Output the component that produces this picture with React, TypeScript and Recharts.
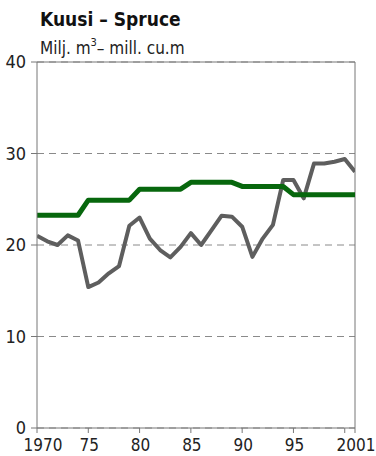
import React from "react";
import { LineChart, Line, XAxis, YAxis, CartesianGrid, ReferenceLine } from "recharts";

const years = [1970, 1971, 1972, 1973, 1974, 1975, 1976, 1977, 1978, 1979, 1980, 1981, 1982, 1983, 1984, 1985, 1986, 1987, 1988, 1989, 1990, 1991, 1992, 1993, 1994, 1995, 1996, 1997, 1998, 1999, 2000, 2001];
const fellings = [21.0, 20.4, 20.0, 21.05, 20.5, 15.4, 15.9, 16.9, 17.7, 22.1, 23.0, 20.7, 19.45, 18.65, 19.8, 21.3, 20.0, 21.6, 23.2, 23.1, 22.0, 18.7, 20.7, 22.2, 27.1, 27.1, 25.1, 28.9, 28.9, 29.1, 29.4, 28.0];
const allowable = [23.25, 23.25, 23.25, 23.25, 23.25, 24.9, 24.9, 24.9, 24.9, 24.9, 26.1, 26.1, 26.1, 26.1, 26.1, 26.85, 26.85, 26.85, 26.85, 26.85, 26.4, 26.4, 26.4, 26.4, 26.4, 25.5, 25.5, 25.5, 25.5, 25.5, 25.5, 25.5];
const xTicks = [1970, 1975, 1980, 1985, 1990, 1995, 2000, 2001];
const yTicks = [0, 10, 20, 30, 40];
const title = "Kuusi – Spruce";
const unitA = "Milj. m";
const unitSup = "3";
const unitB = "– mill. cu.m";

const data = years.map((y, i) => ({ year: y, fellings: fellings[i], allowable: allowable[i] }));

const FONT = "'Liberation Sans Narrow', 'DejaVu Sans Condensed', 'Roboto Condensed', Arial, sans-serif";

const fmtX = (v: number) => {
  if (v === 1970 || v === 2001) return String(v);
  if (v === 2000) return "";
  return String(v).slice(2);
};

const XTick = (props: any) => {
  const { x, y, payload } = props;
  const v = payload.value as number;
  const label = fmtX(v);
  if (!label) return <g />;
  const shift = v === 1970 ? 6 : v === 2001 ? 1 : 1;
  return (
    <text x={x + shift} y={y} dy="0.71em" textAnchor="middle" fill="#222" fontSize={17} fontFamily={FONT}>
      {label}
    </text>
  );
};

export default function App() {
  return (
    <div style={{ position: "absolute", left: 0, top: 0, width: 376, height: 456, background: "#fff", fontFamily: FONT }}>
      <div style={{ position: "absolute", left: 40, top: 10, fontSize: 19, lineHeight: "19px", fontWeight: 700, color: "#111", whiteSpace: "nowrap" }}>
        {title}
      </div>
      <div style={{ position: "absolute", left: 40, top: 40, fontSize: 17, lineHeight: "17px", color: "#222", whiteSpace: "nowrap" }}>
        {unitA}
        <sup style={{ fontSize: 11, verticalAlign: "top", lineHeight: "11px", position: "relative", top: -3 }}>{unitSup}</sup>
        {unitB}
      </div>
      <div style={{ position: "absolute", left: 0, top: 0 }}>
        <LineChart width={376} height={456} data={data} margin={{ top: 62, right: 21, bottom: 0, left: 0 }}>
          <CartesianGrid vertical={false} stroke="#8a8a8a" strokeDasharray="7 5" strokeWidth={1} />
          <XAxis
            dataKey="year"
            type="number"
            domain={[1970, 2001]}
            ticks={xTicks}
            interval={0}
            height={28}
            tickSize={5}
            tickMargin={6}
            stroke="#777"
            tickLine={{ stroke: "#777" }}
            tick={<XTick />}
            allowDataOverflow
          />
          <YAxis
            type="number"
            domain={[0, 40]}
            ticks={yTicks}
            interval={0}
            width={37}
            tickSize={6}
            tickMargin={5}
            stroke="#777"
            tickLine={{ stroke: "#777" }}
            tick={{ fill: "#222", fontSize: 18, fontFamily: FONT }}
          />
          <ReferenceLine y={40} stroke="#777" strokeWidth={1} />
          <ReferenceLine x={2001} stroke="#777" strokeWidth={1} />
          <Line type="linear" dataKey="fellings" stroke="#5e5e5e" strokeWidth={4} dot={false} isAnimationActive={false} strokeLinejoin="round" />
          <Line type="linear" dataKey="allowable" stroke="#07670d" strokeWidth={5} dot={false} isAnimationActive={false} strokeLinejoin="round" />
        </LineChart>
      </div>
    </div>
  );
}
